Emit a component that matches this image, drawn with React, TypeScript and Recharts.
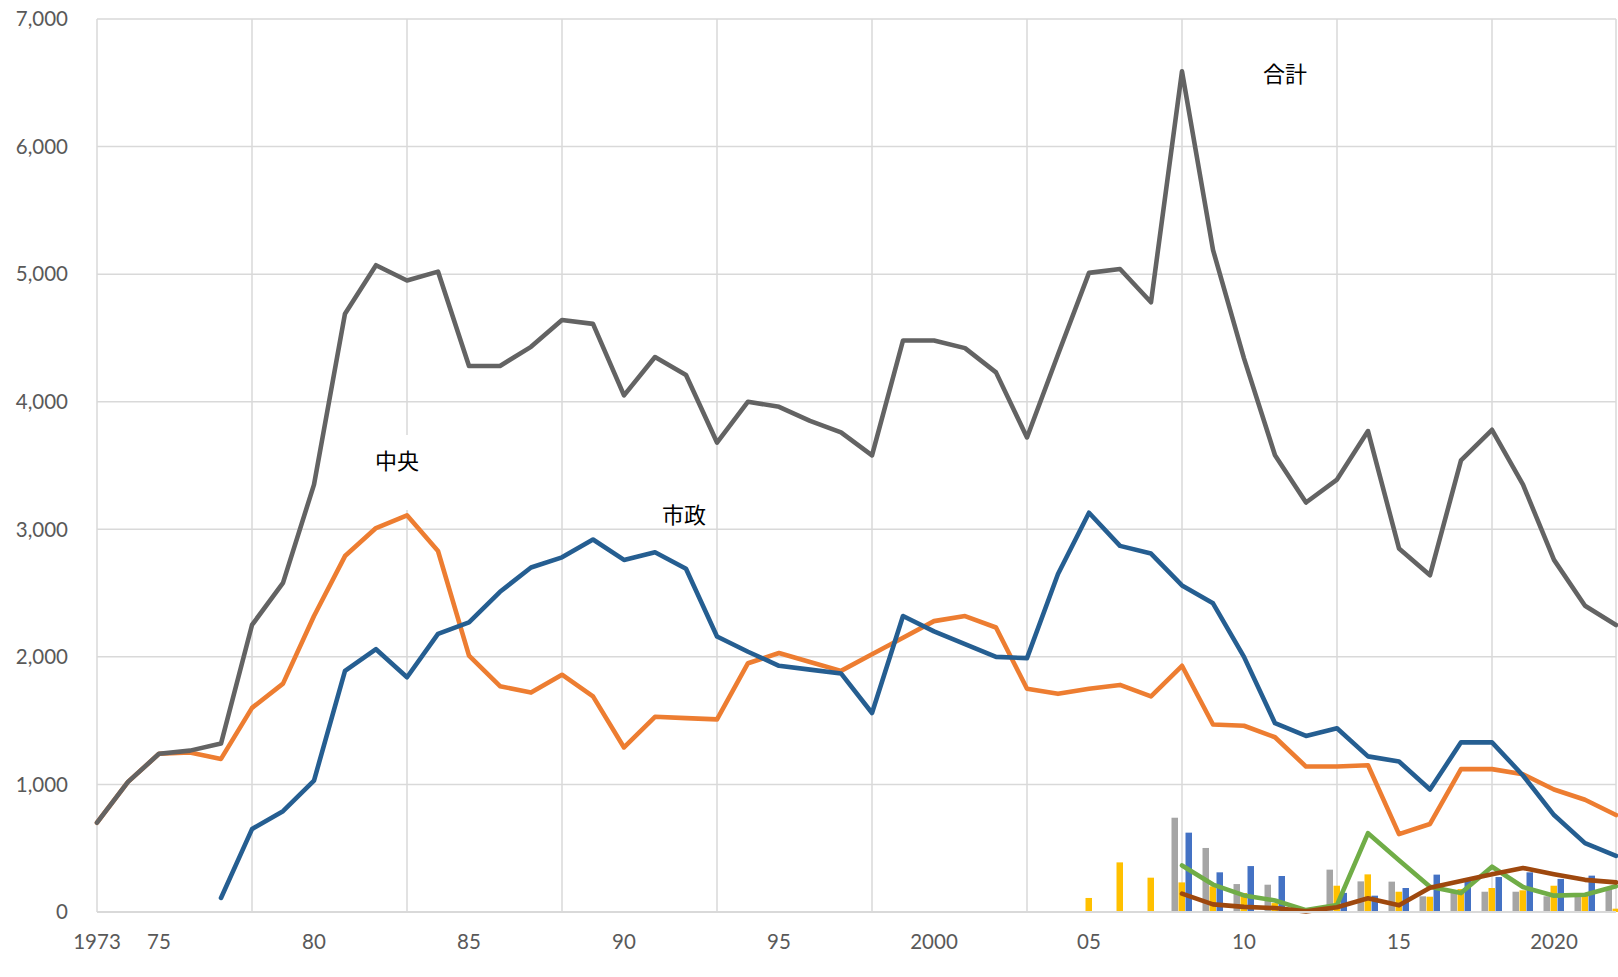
import React from 'react';
import { ComposedChart, Line, Bar, XAxis, YAxis, CartesianGrid } from 'recharts';

const years = [
  1973, 1974, 1975, 1976, 1977, 1978, 1979, 1980, 1981, 1982,
  1983, 1984, 1985, 1986, 1987, 1988, 1989, 1990, 1991, 1992,
  1993, 1994, 1995, 1996, 1997, 1998, 1999, 2000, 2001, 2002,
  2003, 2004, 2005, 2006, 2007, 2008, 2009, 2010, 2011, 2012,
  2013, 2014, 2015, 2016, 2017, 2018, 2019, 2020, 2021, 2022,
];

// 合計
const totalSeries = [
  700, 1020, 1240, 1265, 1320, 2250, 2580, 3350, 4690, 5070,
  4950, 5020, 4280, 4280, 4430, 4640, 4610, 4050, 4350, 4210,
  3680, 4000, 3960, 3850, 3760, 3580, 4480, 4480, 4420, 4230,
  3720, 4370, 5010, 5040, 4780, 6590, 5190, 4340, 3580, 3210,
  3390, 3770, 2850, 2640, 3540, 3780, 3350, 2760, 2400, 2250,
];

// 中央
const centralSeries = [
  700, 1020, 1240, 1250, 1200, 1600, 1790, 2320, 2790, 3010,
  3110, 2830, 2010, 1770, 1720, 1860, 1690, 1290, 1530, 1520,
  1510, 1950, 2030, 1960, 1890, 2020, 2150, 2280, 2320, 2230,
  1750, 1710, 1750, 1780, 1690, 1930, 1470, 1460, 1370, 1140,
  1140, 1150, 610, 690, 1120, 1120, 1080, 960, 880, 760,
];

// 市政
const municipalSeries = [
  null, null, null, null, 110, 650, 790, 1030, 1890, 2060,
  1840, 2180, 2270, 2510, 2700, 2780, 2920, 2760, 2820, 2690,
  2160, 2040, 1930, 1900, 1870, 1560, 2320, 2200, 2100, 2000,
  1990, 2650, 3130, 2870, 2810, 2560, 2420, 2000, 1480, 1380,
  1440, 1220, 1180, 960, 1330, 1330, 1070, 760, 540, 440,
];

const greenSeries = [
  null, null, null, null, null, null, null, null, null, null,
  null, null, null, null, null, null, null, null, null, null,
  null, null, null, null, null, null, null, null, null, null,
  null, null, null, null, null, 365, 215, 130, 90, 15,
  55, 618, 405, 198, 148, 355, 196, 128, 135, 202,
];

const brownSeries = [
  null, null, null, null, null, null, null, null, null, null,
  null, null, null, null, null, null, null, null, null, null,
  null, null, null, null, null, null, null, null, null, null,
  null, null, null, null, null, 144, 60, 40, 31, 5,
  37, 108, 52, 190, 243, 295, 345, 296, 252, 232,
];

const grayBars = [
  null, null, null, null, null, null, null, null, null, null,
  null, null, null, null, null, null, null, null, null, null,
  null, null, null, null, null, null, null, null, null, null,
  null, null, null, null, null, 739, 502, 219, 214, 0,
  332, 240, 238, 123, 150, 159, 159, 123, 118, 185,
];

const yellowBars = [
  null, null, null, null, null, null, null, null, null, null,
  null, null, null, null, null, null, null, null, null, null,
  null, null, null, null, null, null, null, null, null, null,
  null, null, 110, 389, 269, 232, 201, 149, 70, 0,
  206, 295, 159, 120, 180, 188, 170, 206, 128, 26,
];

const blueBars = [
  null, null, null, null, null, null, null, null, null, null,
  null, null, null, null, null, null, null, null, null, null,
  null, null, null, null, null, null, null, null, null, null,
  null, null, null, null, null, 622, 311, 360, 282, 0,
  150, 128, 188, 293, 260, 274, 311, 259, 285, 270,
];

const xTickYears = [1973, 1975, 1980, 1985, 1990, 1995, 2000, 2005, 2010, 2015, 2020];
const xTickLabels = ['1973', '75', '80', '85', '90', '95', '2000', '05', '10', '15', '2020'];
const gridYears = [1973, 1978, 1983, 1988, 1993, 1998, 2003, 2008, 2013, 2018];
const yTicks = [0, 1000, 2000, 3000, 4000, 5000, 6000, 7000];

const data = years.map((year, i) => ({
  year,
  total: totalSeries[i],
  central: centralSeries[i],
  municipal: municipalSeries[i],
  green: greenSeries[i],
  brown: brownSeries[i],
  grayBar: grayBars[i],
  yellowBar: yellowBars[i],
  blueBar: blueBars[i],
}));

const tickStyle = { fontFamily: 'Lato, "Noto Sans", sans-serif', fontSize: 20.5, fill: '#595959' };
const jpFont = '"Noto Sans CJK JP", "Noto Sans CJK SC", sans-serif';
const LW = 4.6;

export default function App() {
  return (
    <div style={{ position: 'absolute', left: 0, top: 0, width: 1618, height: 977, background: '#fff', overflow: 'hidden' }}>
      <ComposedChart
        width={1618}
        height={977}
        data={data}
        margin={{ top: 19, right: 2, left: 37, bottom: 1 }}
        barGap={0.5}
      >
        <CartesianGrid
          xAxisId="grid"
          stroke="#d9d9d9"
          strokeWidth={1.5}
          horizontal={true}
          vertical={true}
        />
        <XAxis
          xAxisId="grid"
          dataKey="year"
          type="number"
          domain={[1973, 2022]}
          ticks={gridYears}
          interval={0}
          hide
        />
        <XAxis
          dataKey="year"
          type="number"
          domain={[1973, 2022]}
          ticks={xTickYears}
          tickFormatter={(v: number) => xTickLabels[xTickYears.indexOf(v)] ?? ''}
          tick={tickStyle}
          tickLine={false}
          axisLine={{ stroke: '#d9d9d9', strokeWidth: 2.2 }}
          tickMargin={16}
          height={64}
          interval={0}
        />
        <YAxis
          type="number"
          domain={[0, 7000]}
          ticks={yTicks}
          tickFormatter={(v: number) => v.toLocaleString('en-US')}
          tick={tickStyle}
          tickLine={false}
          axisLine={false}
          tickMargin={23}
          width={60}
          interval={0}
        />
        <Bar dataKey="grayBar" fill="#A5A5A5" barSize={6.5} isAnimationActive={false} />
        <Bar dataKey="yellowBar" fill="#FFC000" barSize={6.5} isAnimationActive={false} />
        <Bar dataKey="blueBar" fill="#4472C4" barSize={6.5} isAnimationActive={false} />
        <Line dataKey="central" stroke="#ED7D31" strokeWidth={LW} dot={false} strokeLinejoin="round" strokeLinecap="round" isAnimationActive={false} />
        <Line dataKey="municipal" stroke="#255E91" strokeWidth={LW} dot={false} strokeLinejoin="round" strokeLinecap="round" isAnimationActive={false} />
        <Line dataKey="green" stroke="#70AD47" strokeWidth={LW} dot={false} strokeLinejoin="round" strokeLinecap="round" isAnimationActive={false} />
        <Line dataKey="brown" stroke="#9E480E" strokeWidth={LW} dot={false} strokeLinejoin="round" strokeLinecap="round" isAnimationActive={false} />
        <Line dataKey="total" stroke="#636363" strokeWidth={LW} dot={false} strokeLinejoin="round" strokeLinecap="round" isAnimationActive={false} />
      </ComposedChart>
      <div style={{ position: 'absolute', left: 364, top: 435, width: 66, height: 75, background: '#fff', fontFamily: jpFont, fontSize: 22, color: '#000', textAlign: 'center', lineHeight: '30px', paddingTop: 9, boxSizing: 'border-box' }}>中央</div>
      <div style={{ position: 'absolute', left: 684, top: 513, transform: 'translate(-50%, -50%)', fontFamily: jpFont, fontSize: 22, color: '#000', lineHeight: 1, whiteSpace: 'nowrap' }}>市政</div>
      <div style={{ position: 'absolute', left: 1285, top: 72, transform: 'translate(-50%, -50%)', fontFamily: jpFont, fontSize: 22, color: '#000', lineHeight: 1, whiteSpace: 'nowrap' }}>合計</div>
    </div>
  );
}
